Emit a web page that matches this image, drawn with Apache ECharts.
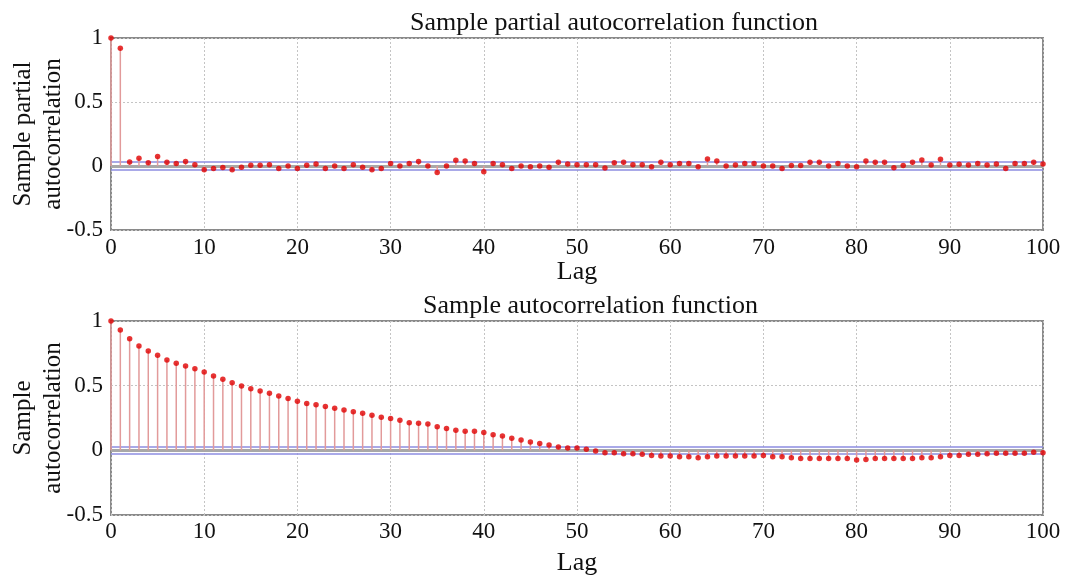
<!DOCTYPE html>
<html>
<head>
<meta charset="utf-8">
<script src="https://cdn.jsdelivr.net/npm/echarts@6/dist/echarts.min.js"></script>
<style>html,body{margin:0;padding:0;background:#fff}#c{width:1072px;height:578px}</style>
</head>
<body>
<div id="c"></div>
<script>
const titles = ['Sample partial autocorrelation function', 'Sample autocorrelation function'];
const yNames = ['Sample partial\nautocorrelation', 'Sample\nautocorrelation'];
const xName = 'Lag';
const confBound = 0.03;
const pacf = [
  1, 0.92, 0.031, 0.06, 0.026, 0.075, 0.03, 0.02, 0.035, 0.01,
  -0.03, -0.02, -0.012, -0.03, -0.01, 0.005, 0.005, 0.01, -0.02, 0,
  -0.02, 0.005, 0.015, -0.02, 0, -0.02, 0.01, -0.01, -0.03, -0.02,
  0.02, 0, 0.02, 0.035, 0, -0.05, 0, 0.045, 0.04, 0.02,
  -0.045, 0.02, 0.01, -0.02, 0, -0.005, 0, -0.01, 0.03, 0.015,
  0.01, 0.01, 0.01, -0.015, 0.025, 0.03, 0.01, 0.01, -0.005, 0.03,
  0.01, 0.02, 0.02, -0.005, 0.055, 0.04, 0.0, 0.008, 0.02, 0.02,
  0, 0, -0.02, 0.003, 0.003, 0.03, 0.03, 0, 0.02, 0,
  -0.005, 0.04, 0.03, 0.03, -0.013, 0.003, 0.03, 0.047, 0.008, 0.052,
  0.008, 0.013, 0.008, 0.02, 0.008, 0.015, -0.02, 0.02, 0.02, 0.03,
  0.015
];
const acf = [
  1, 0.93, 0.863, 0.807, 0.768, 0.735, 0.698, 0.673, 0.652, 0.631,
  0.606, 0.575, 0.549, 0.523, 0.497, 0.477, 0.459, 0.441, 0.42, 0.4,
  0.379, 0.363, 0.353, 0.338, 0.325, 0.312, 0.299, 0.286, 0.271, 0.255,
  0.247, 0.232, 0.214, 0.209, 0.204, 0.183, 0.168, 0.155, 0.147, 0.147,
  0.137, 0.121, 0.111, 0.093, 0.08, 0.064, 0.052, 0.041, 0.026, 0.018,
  0.018, 0.008, -0.005, -0.018, -0.018, -0.026, -0.026, -0.031, -0.039, -0.044,
  -0.044, -0.049, -0.049, -0.057, -0.05, -0.044, -0.044, -0.044, -0.044, -0.044,
  -0.039, -0.049, -0.049, -0.057, -0.064, -0.064, -0.064, -0.064, -0.064, -0.064,
  -0.075, -0.07, -0.064, -0.064, -0.064, -0.064, -0.064, -0.057, -0.057, -0.049,
  -0.039, -0.039, -0.031, -0.031, -0.026, -0.023, -0.023, -0.023, -0.023, -0.015,
  -0.018
];
const lags = pacf.map((_, i) => i);

const FONT = '"Liberation Serif", "Times New Roman", serif';
const chart = echarts.init(document.getElementById('c'), null, {renderer: 'canvas'});

function pairs(arr) { return arr.map((v, i) => [lags[i], v]); }

const grids = [
  {left: 111, right: 29, top: 38, height: 192},
  {left: 111, right: 29, top: 321, height: 194}
];
const xNameGaps = [29, 35];
const xLabelMargins = [6, 5];
const xAxes = [0, 1].map(i => ({
  type: 'value', gridIndex: i, min: 0, max: 100, interval: 10,
  name: xName, nameLocation: 'middle', nameGap: xNameGaps[i], nameMoveOverlap: false,
  nameTextStyle: {fontFamily: FONT, fontSize: 26, color: '#111'},
  axisLine: {show: false}, axisTick: {show: false},
  axisLabel: {fontFamily: FONT, fontSize: 23, color: '#111', margin: xLabelMargins[i]},
  splitLine: {show: true, lineStyle: {color: '#c4c4c4', type: [2, 2], width: 1}}
}));
const yAxes = [0, 1].map(i => ({
  type: 'value', gridIndex: i, min: -0.5, max: 1, interval: 0.5,
  name: yNames[i], nameLocation: 'middle', nameRotate: 90, nameGap: 43, nameMoveOverlap: false,
  nameTextStyle: {fontFamily: FONT, fontSize: 25, color: '#111', lineHeight: 30},
  axisLine: {show: false}, axisTick: {show: false},
  axisLabel: {fontFamily: FONT, fontSize: 23, color: '#111', margin: 8},
  splitLine: {show: true, lineStyle: {color: '#c4c4c4', type: [2, 2], width: 1}}
}));

const series = [];
[pacf, acf].forEach((arr, i) => {
  series.push({
    type: 'bar', xAxisIndex: i, yAxisIndex: i, data: pairs(arr),
    barWidth: 1.5, itemStyle: {color: '#e29a9a'}, silent: true, z: 3,
    markLine: {
      silent: true, symbol: 'none', label: {show: false}, z: 2,
      data: [
        {yAxis: 0, lineStyle: {color: '#a8a8a8', width: 3, type: 'solid'}},
        {yAxis: confBound, lineStyle: {color: '#8c8ce0', width: 1.5, type: 'solid'}},
        {yAxis: -confBound, lineStyle: {color: '#8c8ce0', width: 1.5, type: 'solid'}}
      ]
    }
  });
  series.push({
    type: 'scatter', xAxisIndex: i, yAxisIndex: i, data: pairs(arr),
    symbol: 'circle', symbolSize: 5.5, itemStyle: {color: '#e00000'}, z: 5
  });
});

chart.setOption({
  animation: false,
  backgroundColor: '#fff',
  title: [
    {text: titles[0], left: 405, top: 5, textStyle: {fontFamily: FONT, fontSize: 26, fontWeight: 'normal', color: '#111'}},
    {text: titles[1], left: 418, top: 288, textStyle: {fontFamily: FONT, fontSize: 26, fontWeight: 'normal', color: '#111'}}
  ],
  grid: grids.map(g => Object.assign({show: true, borderColor: '#8a8a8a', borderWidth: 2, backgroundColor: '#fff', outerBoundsMode: 'none', containLabel: false}, g)),
  xAxis: xAxes,
  yAxis: yAxes,
  series: series
});
</script>
</body>
</html>
